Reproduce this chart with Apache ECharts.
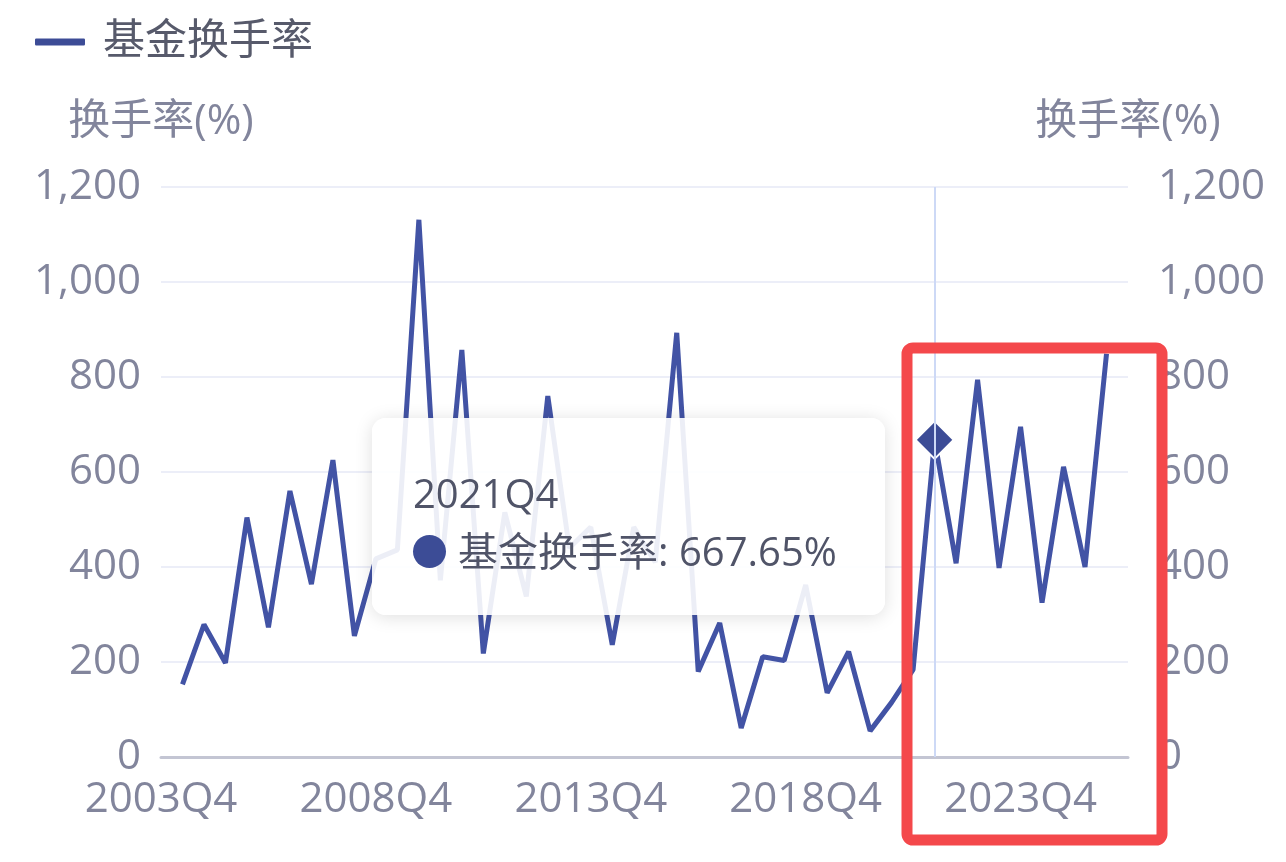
<!DOCTYPE html>
<html>
<head>
<meta charset="utf-8">
<script src="https://cdn.jsdelivr.net/npm/echarts/dist/echarts.min.js"></script>
<style>
html,body{margin:0;padding:0;background:#ffffff;}
#chart{width:1286px;height:862px;}
</style>
</head>
<body>
<div id="chart"></div>
<script>
// ---------- data ----------
const categories = [
  '2003Q4','2004Q2','2004Q4','2005Q2','2005Q4','2006Q2','2006Q4','2007Q2','2007Q4',
  '2008Q2','2008Q4','2009Q2','2009Q4','2010Q2','2010Q4','2011Q2','2011Q4','2012Q2',
  '2012Q4','2013Q2','2013Q4','2014Q2','2014Q4','2015Q2','2015Q4','2016Q2','2016Q4',
  '2017Q2','2017Q4','2018Q2','2018Q4','2019Q2','2019Q4','2020Q2','2020Q4','2021Q2',
  '2021Q4','2022Q2','2022Q4','2023Q2','2023Q4','2024Q2','2024Q4','2025Q2','2025Q4',
  '2026Q2'
];
const turnover = [
  null, 153, 279, 198, 504, 273, 560, 364, 625,
  255, 417, 436, 1131, 372, 857, 218, 515, 338,
  760, 440, 484, 236, 484, 410, 893, 180, 282,
  61, 211, 203, 362, 135, 222, 55, 115, 184,
  667.65, 408, 794, 398, 695, 325, 611, 400, 849,
  null
];
const seriesName = '基金换手率';
const axisName = '换手率(%)';
const yMin = 0, yMax = 1200, yStep = 200;
const highlightCategory = '2021Q4';

// ---------- styles ----------
const FONT = "'Open Sans', 'Noto Sans CJK SC', sans-serif";
const lineColor = '#3c4c96';
const labelColor = '#82859c';

const chart = echarts.init(document.getElementById('chart'), null, {renderer: 'canvas'});
const hiIndex = categories.indexOf(highlightCategory);

const yAxisCommon = {
  type: 'value',
  min: yMin, max: yMax, interval: yStep,
  name: axisName,
  nameLocation: 'end',
  nameGap: 44,
  nameTextStyle: {fontSize: 42, color: labelColor, fontFamily: FONT, align: 'center'},
  axisLine: {show: false},
  axisTick: {show: false},
  axisLabel: {fontSize: 42, color: labelColor, fontFamily: FONT}
};

chart.setOption({
  backgroundColor: '#ffffff',
  animation: false,
  textStyle: {fontFamily: FONT},
  legend: {
    data: [seriesName],
    left: 28, top: 16,
    icon: 'roundRect',
    itemWidth: 52, itemHeight: 9,
    textStyle: {fontSize: 42, color: '#575a6b', fontFamily: FONT, padding: [0, 0, 0, 12]}
  },
  grid: {left: 161, right: 158, top: 187, bottom: 105, containLabel: false, outerBoundsMode: 'none'},
  tooltip: {
    trigger: 'axis',
    alwaysShowContent: true,
    transitionDuration: 0,
    backgroundColor: 'rgba(255,255,255,0.9)',
    borderWidth: 0,
    padding: 0,
    extraCssText: 'border-radius:14px;box-shadow:0 2px 18px rgba(0,0,0,0.13);',
    position: function () { return [372, 418]; },
    axisPointer: {type: 'line', lineStyle: {color: '#cdd9f6', width: 2, type: 'solid'}},
    formatter: function (params) {
      const p = params[0];
      return '<div style="width:513px;height:197px;box-sizing:border-box;padding:46px 0 0 41px;' +
        'font-family:' + FONT.replace(/"/g, '') + ';font-size:40px;line-height:58px;color:#505468;">' +
        '<div>' + p.axisValue + '</div>' +
        '<div><span style="display:inline-block;width:33px;height:33px;border-radius:50%;background:' + lineColor +
        ';vertical-align:middle;margin-right:12px;position:relative;top:-4px;"></span>' +
        p.seriesName + ': ' + p.value + '%</div></div>';
    }
  },
  xAxis: {
    type: 'category',
    data: categories,
    boundaryGap: false,
    axisLine: {show: true, lineStyle: {color: '#c3c5d3', width: 3}},
    axisTick: {show: false},
    axisLabel: {interval: 9, fontSize: 42, color: labelColor, fontFamily: FONT, margin: 22},
    splitLine: {show: false}
  },
  yAxis: [
    Object.assign({}, yAxisCommon, {
      position: 'left',
      axisLabel: Object.assign({}, yAxisCommon.axisLabel, {margin: 20}),
      splitLine: {show: true, lineStyle: {color: '#eceef8', width: 2}}
    }),
    Object.assign({}, yAxisCommon, {
      position: 'right',
      axisLabel: Object.assign({}, yAxisCommon.axisLabel, {margin: 30}),
      splitLine: {show: false}
    })
  ],
  series: [{
    name: seriesName,
    type: 'line',
    yAxisIndex: 0,
    data: turnover,
    showSymbol: false,
    symbol: 'diamond',
    symbolSize: 38,
    connectNulls: false,
    lineStyle: {color: lineColor, width: 5},
    itemStyle: {color: lineColor, borderColor: '#ffffff', borderWidth: 2},
    emphasis: {scale: false, focus: 'none', lineStyle: {width: 5}}
  }],
  graphic: [{
    type: 'rect',
    z: 100,
    silent: true,
    shape: {x: 907, y: 348, width: 255, height: 492, r: 6},
    style: {fill: 'none', stroke: '#f4484b', lineWidth: 11}
  }]
});

chart.dispatchAction({type: 'showTip', seriesIndex: 0, dataIndex: hiIndex});
</script>
</body>
</html>
